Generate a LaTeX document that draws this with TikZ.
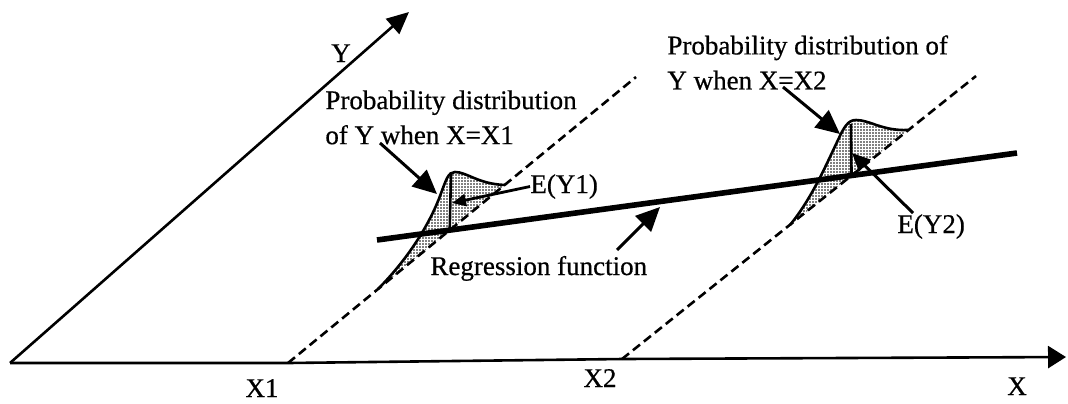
\documentclass[tikz,border=0pt]{standalone}
\usepackage{fontspec}
\setmainfont{Liberation Serif}[FakeBold=0.6]
\usetikzlibrary{arrows.meta,patterns.meta,positioning}

\begin{document}
\begin{tikzpicture}[x=0.5pt,y=-0.5pt,
  every node/.style={font=\fontsize{13.5}{17.5}\selectfont,inner sep=0pt},
  ax/.style={line width=1.3pt,-{Triangle[length=11pt,width=10pt]}},
  guide/.style={line width=1.3pt,dash pattern=on 4.5pt off 2.5pt},
  reg/.style={line width=2.8pt},
  pdf/.style={pattern={Dots[distance=1.5pt,radius=0.45pt]}},
  ptr/.style={line width=1.5pt,-{Triangle[length=12pt,width=11pt]}}]
\useasboundingbox (0,0) rectangle (1068,403);
% axes, guide lines, regression line
\coordinate (O) at (10,363);
\coordinate (yend) at (409,12);
\coordinate (xend) at (1066,357);
\coordinate (f1) at (288,363);
\coordinate (t1) at (636,77);
\coordinate (f2) at (622,359);
\coordinate (t2) at (976,76);
\coordinate (r0) at (377,240);
\coordinate (r1) at (1017,153);
\coordinate (b1) at (intersection of r0--r1 and f1--t1);
\coordinate (b2) at (intersection of r0--r1 and f2--t2);
\coordinate (m1) at (451,174);
\coordinate (m2) at (851,124);
% distributions
\fill[pdf] (378,289) .. controls (405,262) and (428,228) .. (440,196) .. controls (446,180) and (448,172) .. (455,172) .. controls (467,172) and (478,184) .. (505,185) -- cycle;
\fill[pdf] (790,225) .. controls (812,198) and (826,165) .. (838,140) .. controls (844,127) and (848,120) .. (856,120) .. controls (870,120) and (882,131) .. (908,130) -- cycle;
\draw[guide] (f1) -- (t1);
\draw[guide] (f2) -- (t2);
\draw[ax] (O) -- (yend);
\draw[ax,-{Triangle[length=9pt,width=11pt]}] (O) -- (f1) -- (f2) -- (xend);
\draw[reg] (r0) -- (r1);
\draw[line width=1.3pt] (378,289) .. controls (405,262) and (428,228) .. (440,196) .. controls (446,180) and (448,172) .. (455,172) .. controls (467,172) and (478,184) .. (505,185);
\draw[line width=1.3pt] (790,225) .. controls (812,198) and (826,165) .. (838,140) .. controls (844,127) and (848,120) .. (856,120) .. controls (870,120) and (882,131) .. (908,130);
\draw[line width=1.3pt] (b1) -- (m1);
\draw[line width=1.3pt] (b2) -- (m2);
% labels
\node[anchor=base] (ylab) at (341,62) {Y};
\node[anchor=north west,align=left] (p1) at (325,90) {Probability distribution\\of Y when X=X1};
\node[anchor=north west,align=left] (p2) at (667,35) {Probability distribution of\\Y when X=X2};
\node[anchor=base west] (ey1) at (530,193) {E(Y1)};
\node[anchor=base west] (ey2) at (897,233) {E(Y2)};
\node[anchor=base west] (rf) at (430,275) {Regression function};
\node[anchor=base] (x1) at (262,397) {X1};
\node[anchor=base] (x2) at (600,387) {X2};
\node[anchor=base] (xl) at (1017,395) {X};
% pointers
\coordinate (a1) at (380,143);
\coordinate (h1) at (437,194);
\coordinate (h2) at (452,203);
\coordinate (a3) at (783,87);
\coordinate (h3) at (840,134);
\coordinate (a4) at (913,213);
\coordinate (h4) at (852,153);
\coordinate (a5) at (617,250);
\coordinate (h5) at (660,207);
\draw[ptr] (a1) -- (h1);
\draw[line width=1.4pt,-{Triangle[length=7pt,width=6pt]}] (ey1.west) -- (h2);
\draw[ptr] (a3) -- (h3);
\draw[line width=1.5pt,-{Triangle[length=9pt,width=8pt]}] (a4) -- (h4);
\draw[ptr] (a5) -- (h5);
\end{tikzpicture}
\end{document}
